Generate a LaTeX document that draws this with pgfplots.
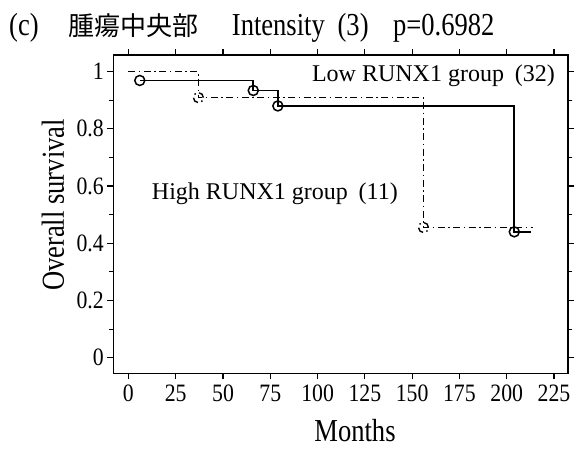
\documentclass[border=0pt]{standalone}
\usepackage{fontspec}
\setmainfont{Liberation Serif}
\newfontfamily\cond[FakeStretch=0.83]{Liberation Serif}
\newfontfamily\tcond[FakeStretch=0.87]{Liberation Serif}
\newfontfamily\cjk{Noto Sans CJK JP}
\usepackage{pgfplots}
\pgfplotsset{compat=1.18}
\tikzset{ddot/.style={dash pattern=on 7pt off 3.5pt on 1.5pt off 3.5pt}}
\begin{document}
\begin{tikzpicture}
\begin{axis}[
  scale only axis, width=454.7pt, height=318.3pt,
  xmin=-8, xmax=232.4, ymin=-0.0545, ymax=1.058,
  xtick={0,25,50,75,100,125,150,175,200,225},
  ytick={0,0.2,0.4,0.6,0.8,1},
  minor ytick={0.1,0.3,0.5,0.7,0.9},
  tick align=outside, major tick length=6pt, minor tick length=4pt,
  axis line style={line width=1.5pt},
  every tick/.style={line width=1.2pt, black},
  /pgf/number format/assume math mode=true,
  ticklabel style={font=\fontsize{25}{27}\selectfont\tcond},
  xticklabel shift=2.5pt,
  xlabel={Months}, ylabel={Overall survival},
  label style={font=\fontsize{32}{34}\selectfont\cond},
  xlabel style={at={(rel axis cs:0.5316,-0.2145)}, anchor=base, text depth=0pt, inner sep=0pt},
  ylabel style={at={(rel axis cs:-0.1326,0.5287)}, anchor=center},
  clip=false,
]
\addplot[black, line width=1.7pt] coordinates {(6,0.969)(66,0.969)(66,0.934)(79,0.934)(79,0.880)(204,0.880)(204,0.44)(213,0.44)};
\addplot[only marks, mark=o, mark size=5pt, black, line width=1.5pt] coordinates {(6,0.969)(66,0.934)(79,0.880)(204,0.44)};
\addplot[black, line width=1.6pt, ddot] coordinates {(0,1)(37,1)(37,0.909)(156,0.909)(156,0.455)(214,0.455)};
\addplot[only marks, mark=o, mark size=5pt, black, ddot, line width=1.4pt] coordinates {(37,0.909)(156,0.455)};
\node[anchor=base west, inner sep=0, font=\fontsize{32}{34}\selectfont\cond] at (rel axis cs:-0.2294,1.0628) {(c)};
\node[anchor=base west, inner sep=0, font=\fontsize{26}{30}\selectfont\cjk] at (rel axis cs:-0.0996,1.0628) {腫瘍中央部};
\node[anchor=base west, inner sep=0, font=\fontsize{32}{34}\selectfont\cond] at (rel axis cs:0.2604,1.0628) {Intensity\hspace{0.4em}(3)};
\node[anchor=base west, inner sep=0, font=\fontsize{32}{34}\selectfont\cond] at (rel axis cs:0.6151,1.0628) {p=0.6982};
\node[anchor=base east, inner sep=0, font=\fontsize{24}{26}\selectfont] at (rel axis cs:0.9714,0.9161) {Low RUNX1 group\hspace{0.45em}(32)};
\node[anchor=base west, inner sep=0, font=\fontsize{24}{26}\selectfont] at (rel axis cs:0.0845,0.5445) {High RUNX1 group\hspace{0.45em}(11)};
\end{axis}
\path[use as bounding box] ([shift={(-113.3pt,-74.7pt)}]current axis.south west) rectangle ([shift={(10pt,55pt)}]current axis.north east);
\end{tikzpicture}
\end{document}
